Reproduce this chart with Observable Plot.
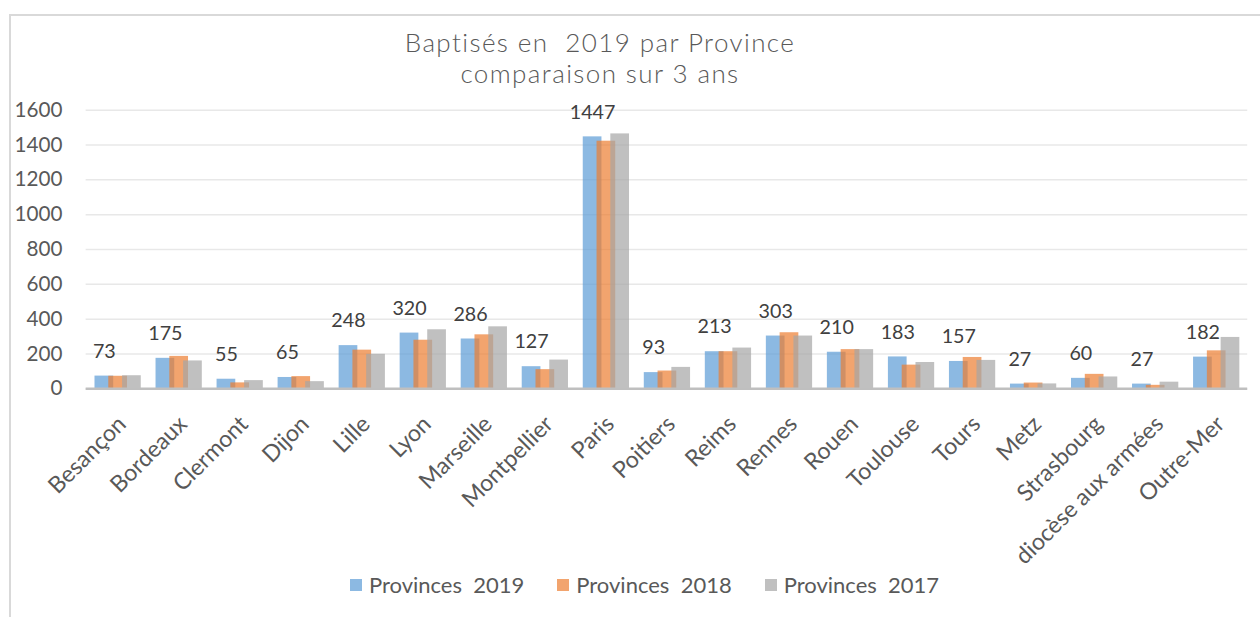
<!DOCTYPE html>
<html>
<head>
<meta charset="utf-8">
<script src="https://cdn.jsdelivr.net/npm/d3@7"></script>
<script src="https://cdn.jsdelivr.net/npm/@observablehq/plot@0.6"></script>
<style>
  html, body { margin:0; padding:0; width:1260px; height:617px; overflow:hidden; background:#fff; font-family: Lato, "Open Sans", sans-serif; }
  #frame { position:absolute; left:9px; top:14px; width:1400px; height:800px; border-left:2px solid #d9d9d9; border-top:2px solid #d9d9d9; }
  #title { position:absolute; left:0; top:27px; width:1200px; text-align:center; font-size:26px; font-weight:300; color:#595959; line-height:31px; white-space:pre; letter-spacing:1.4px; }
  #chart { position:absolute; left:0; top:92px; }
  #legend { position:absolute; left:0; top:571px; width:1289px; display:flex; justify-content:center; align-items:center; gap:33px; font-size:22px; color:#595959; white-space:pre; }
  .item { display:flex; align-items:center; gap:7px; }
  .sw { width:12px; height:12px; display:inline-block; }
</style>
</head>
<body>
<div id="frame"></div>
<div id="title"></div>
<div id="chart"></div>
<div id="legend"></div>
<script>
const titleLines = ["Baptisés en  2019 par Province", "comparaison sur 3 ans"];
const provinces = ["Besançon","Bordeaux","Clermont","Dijon","Lille","Lyon","Marseille","Montpellier","Paris","Poitiers","Reims","Rennes","Rouen","Toulouse","Tours","Metz","Strasbourg","diocèse aux armées","Outre-Mer"];
const v2019 = [73,175,55,65,248,320,286,127,1447,93,213,303,210,183,157,27,60,27,182];
const v2018 = [72,186,34,70,222,279,310,110,1422,102,213,322,225,136,180,33,83,20,218];
const v2017 = [75,160,47,41,198,339,356,165,1464,123,234,303,225,151,163,28,68,38,295];
const seriesNames = ["Provinces  2019","Provinces  2018","Provinces  2017"];
const seriesColors = ["#5B9BD5","#ED7D31","#A5A5A5"];
const yTicks = [0,200,400,600,800,1000,1200,1400,1600];

document.getElementById("title").textContent = titleLines.join("\n");

const seriesValues = [v2019, v2018, v2017];
const tables = seriesValues.map(vals => provinces.map((p, i) => ({province: p, value: vals[i]})));
const offsets = [-14, 0, 14];

const barMarks = tables.map((tbl, s) => Plot.barY(tbl, {
  x: "province", y: "value", dx: offsets[s],
  fill: seriesColors[s], fillOpacity: 0.7
}));

const chart = Plot.plot({
  width: 1280,
  height: 478,
  marginLeft: 87,
  marginRight: 13,
  marginTop: 18,
  marginBottom: 177,
  style: { fontFamily: "Lato, 'Open Sans', sans-serif", color: "#595959", background: "transparent", overflow: "visible" },
  x: { domain: provinces, paddingInner: 0.7, paddingOuter: 0.35, label: null },
  y: { domain: [0, 1600], label: null },
  marks: [
    Plot.gridY(yTicks, { stroke: "#d9d9d9", strokeOpacity: 0.6, strokeWidth: 1.5 }),
    Plot.axisY(yTicks, { tickSize: 0, tickPadding: 24, fontSize: 21, label: null, tickFormat: d => String(d) }),
    Plot.axisX({ tickSize: 0, tickRotate: -45, tickPadding: 32, dx: 4, fontSize: 23.5, label: null }),
    ...barMarks,
    Plot.ruleY([0], { stroke: "#bfbfbf", strokeWidth: 2.5 }),
    Plot.text(tables[0], { x: "province", y: "value", text: d => String(d.value), dx: offsets[0], dy: -25, fontSize: 20, fill: "#404040" })
  ]
});
document.getElementById("chart").appendChild(chart);

const legend = document.getElementById("legend");
seriesNames.forEach((name, s) => {
  const item = document.createElement("div");
  item.className = "item";
  const sw = document.createElement("span");
  sw.className = "sw";
  sw.style.background = seriesColors[s];
  sw.style.opacity = 0.7;
  const lab = document.createElement("span");
  lab.textContent = name;
  item.appendChild(sw);
  item.appendChild(lab);
  legend.appendChild(item);
});
</script>
</body>
</html>
